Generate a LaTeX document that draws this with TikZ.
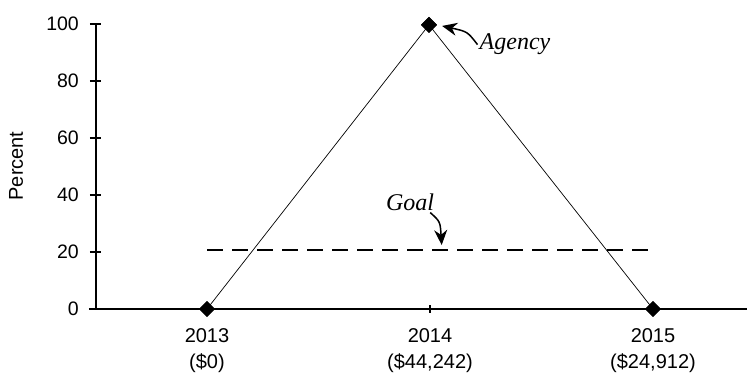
\documentclass[tikz,border=0pt]{standalone}
\usepackage{fontspec}
\setmainfont{Liberation Sans}
\newfontfamily\notefont{Liberation Serif}
\usetikzlibrary{shapes.geometric, arrows.meta}
\tikzstyle{axisline} = [
    line width=2.2pt,
    color=black
]
\tikzstyle{dataline} = [
    line width=0.7pt,
    color=black
]
\tikzstyle{datapoint} = [
    diamond,
    fill=black,
    minimum size=16pt,
    inner sep=0pt
]
\tikzstyle{goalline} = [
    line width=2.6pt,
    dash pattern=on 16pt off 9pt
]
\tikzstyle{ticklabel} = [
    anchor=east,
    inner sep=0pt,
    font=\fontsize{19.5}{23}\selectfont
]
\tikzstyle{yearlabel} = [
    anchor=north,
    align=center,
    inner sep=0pt,
    font=\fontsize{20}{26}\selectfont
]
\tikzstyle{notelabel} = [
    anchor=base,
    inner sep=2pt,
    font=\notefont\itshape\fontsize{24}{28}\selectfont
]
\tikzstyle{callout} = [
    -{Stealth[length=15pt,width=13pt]},
    line width=1.5pt,
    shorten >=5pt
]
\begin{document}
\begin{tikzpicture}[x=1pt, y=2.85pt]

\path[use as bounding box] (-96pt,-64pt) rectangle (651pt,309pt);

% Axes
\coordinate (origin) at (0,0);
\coordinate (ytop) at (0,100);
\coordinate (xleft) at (-7,0);
\coordinate (xright) at (651,0);
\draw[axisline] (origin) -- (ytop);
\draw[axisline] (xleft) -- (xright);

% Y ticks and labels
\foreach \v in {0,20,...,100} {
    \draw[axisline] (-6,\v) -- (5,\v);
    \node[ticklabel] (tick\v) at (-17,\v) {\v};
}
\node[rotate=90, font=\fontsize{20}{24}\selectfont] (ylabel) at (-80,50.2) {Percent};

% X ticks
\foreach \x in {111,334,557} {
    \draw[dataline, line width=1.4pt] (\x,-1.4) -- (\x,1.4);
}

% Goal line
\coordinate (goalstart) at (111,20.7);
\coordinate (goalend) at (552,20.7);
\coordinate (goalmark) at (346,20.7);
\draw[goalline] (goalstart) -- (goalend);

% Agency data
\node[datapoint] (p13) at (111,0) {};
\node[datapoint] (p14) at (333,99.7) {};
\node[datapoint] (p15) at (557,0) {};
\draw[dataline] (p13.center) -- (p14.center) -- (p15.center);
\node[datapoint] at (p13) {};
\node[datapoint] at (p14) {};
\node[datapoint] at (p15) {};

% Year labels
\node[yearlabel] (y13) at (111,-6.67) {2013\\(\$0)};
\node[yearlabel] (y14) at (334,-6.67) {2014\\(\$44,242)};
\node[yearlabel] (y15) at (557,-6.67) {2015\\(\$24,912)};

% Notes
\node[notelabel] (agency) at (419,90.9) {Agency};
\node[notelabel] (goal) at (314,34.7) {Goal};
\draw[callout] (agency.west) .. controls +(-10pt,13pt) .. (p14.east);
\draw[callout] ([xshift=-6pt]goal.south east) .. controls +(10pt,-9pt) .. (goalmark);

\end{tikzpicture}
\end{document}
